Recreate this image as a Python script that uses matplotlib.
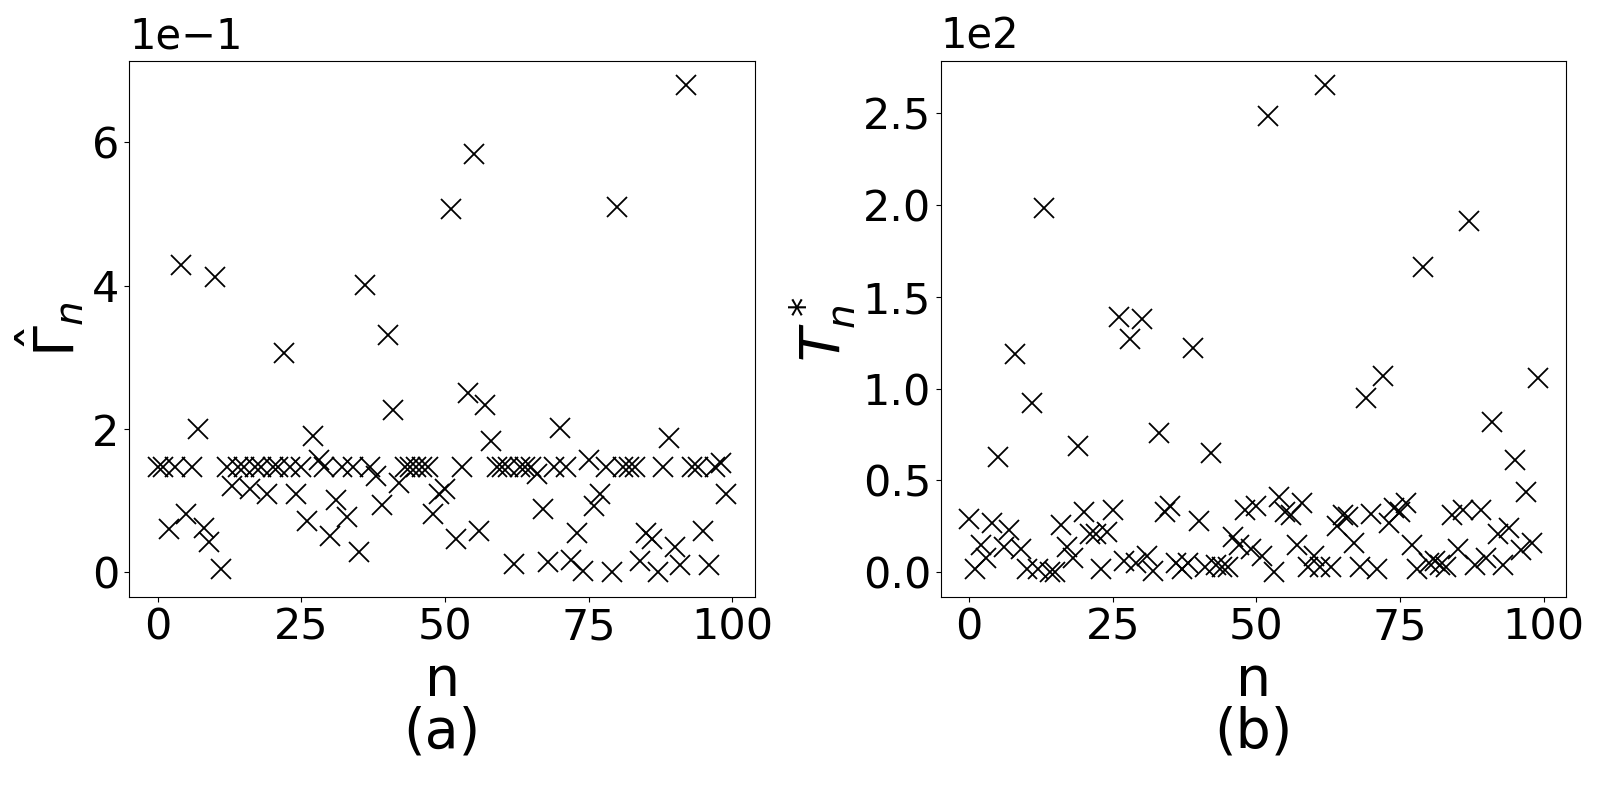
import matplotlib
matplotlib.use('Agg')
import matplotlib.pyplot as plt
import matplotlib.transforms as mtransforms
import numpy as np

# n index for both panels
n = np.arange(100)

gamma_hat_e1 = [
    1.47, 1.47, 0.60, 1.47, 4.29, 0.82, 1.47, 2.00, 0.62, 0.42,
    4.12, 0.05, 1.47, 1.20, 1.47, 1.47, 1.16, 1.47, 1.47, 1.09,
    1.47, 1.47, 3.06, 1.47, 1.09, 1.47, 0.72, 1.90, 1.57, 1.47,
    0.51, 1.01, 1.47, 0.77, 1.47, 0.29, 4.01, 1.47, 1.35, 0.94,
    3.32, 2.26, 1.25, 1.47, 1.47, 1.47, 1.47, 1.47, 0.82, 1.09,
    1.16, 5.07, 0.46, 1.47, 2.50, 5.84, 0.58, 2.34, 1.83, 1.47,
    1.47, 1.47, 0.12, 1.47, 1.47, 1.47, 1.37, 0.89, 0.15, 1.47,
    2.02, 1.47, 0.18, 0.55, 0.02, 1.57, 0.93, 1.09, 1.47, 0.00,
    5.10, 1.47, 1.47, 1.47, 0.16, 0.55, 0.46, 0.00, 1.47, 1.88,
    0.36, 0.11, 6.80, 1.47, 1.47, 0.58, 0.11, 1.47, 1.53, 1.09,
]

t_star_e2 = [
    0.29, 0.02, 0.15, 0.08, 0.27, 0.63, 0.14, 0.23, 1.19, 0.13,
    0.02, 0.92, 0.02, 1.98, 0.00, 0.00, 0.26, 0.14, 0.08, 0.69,
    0.33, 0.21, 0.21, 0.02, 0.22, 0.34, 1.39, 0.06, 1.27, 0.05,
    1.38, 0.09, 0.01, 0.76, 0.33, 0.36, 0.05, 0.02, 0.05, 1.22,
    0.28, 0.03, 0.65, 0.04, 0.03, 0.03, 0.19, 0.15, 0.34, 0.13,
    0.36, 0.09, 2.48, 0.00, 0.41, 0.33, 0.31, 0.15, 0.38, 0.03,
    0.09, 0.03, 2.65, 0.03, 0.25, 0.31, 0.30, 0.16, 0.03, 0.95,
    0.32, 0.02, 1.07, 0.27, 0.35, 0.33, 0.38, 0.15, 0.02, 1.66,
    0.05, 0.06, 0.04, 0.03, 0.31, 0.13, 0.34, 1.91, 0.04, 0.34,
    0.08, 0.82, 0.21, 0.04, 0.24, 0.61, 0.12, 0.44, 0.16, 1.06,
]

gamma_hat = np.array(gamma_hat_e1) * 1e-1
t_star = np.array(t_star_e2) * 1e2

fig = plt.figure(figsize=(16, 8), dpi=100)
ax1 = fig.add_axes([0.0808, 0.254, 0.391, 0.67])
ax2 = fig.add_axes([0.588, 0.254, 0.391, 0.67])

panels = [
    (ax1, gamma_hat, r'$\hat{\Gamma}_n$', 'n\n(a)'),
    (ax2, t_star, r'$T^*_n$', 'n\n(b)'),
]

for ax, vals, ylab, xlab in panels:
    ax.plot(n, vals, 'x', color='black', markersize=14, markeredgewidth=1.3)
    ax.set_xticks([0, 25, 50, 75, 100])
    ax.ticklabel_format(axis='y', style='sci', scilimits=(0, 0))
    ax.tick_params(labelsize=31)
    ax.set_ylabel(ylab, fontsize=40)
    ax.set_xlabel(xlab, fontsize=40, linespacing=0.95)
    # offset text ("1e-1", "1e2") a bit larger and higher than default
    off = ax.yaxis.get_offset_text()
    off.set_fontsize(30)
    off.set_transform(mtransforms.blended_transform_factory(
        ax.transAxes, mtransforms.Affine2D().translate(0, 8)))

fig.savefig('out.png', dpi=100)
plt.close(fig)
